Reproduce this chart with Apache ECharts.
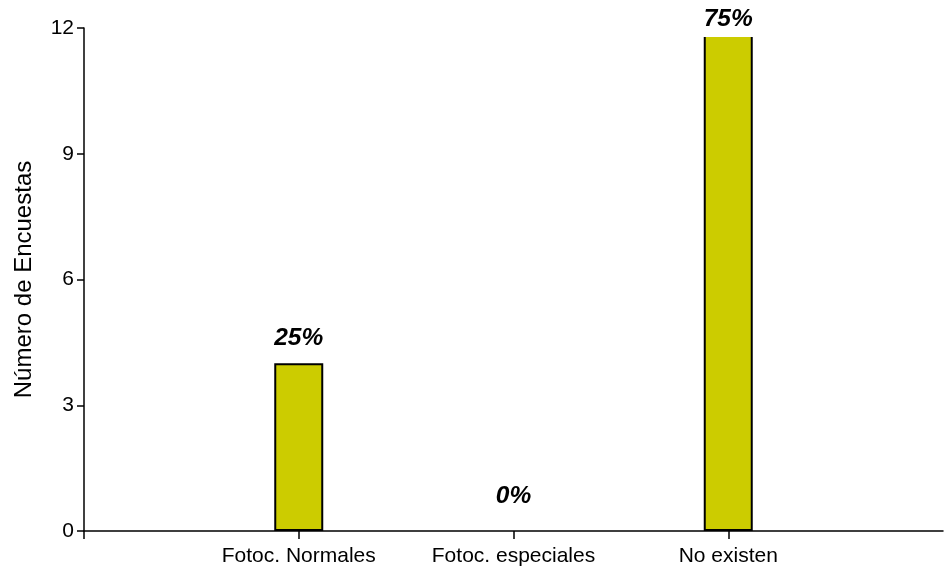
<!DOCTYPE html>
<html>
<head>
<meta charset="utf-8">
<script src="https://cdn.jsdelivr.net/npm/echarts@6/dist/echarts.min.js"></script>
<style>html,body{margin:0;padding:0;background:#fff}#c{width:946px;height:569px}</style>
</head>
<body>
<div id="c"></div>
<script>
var categories = ['Fotoc. Normales', 'Fotoc. especiales', 'No existen'];
var counts = [4, 0, 12];
var percentLabels = ['25%', '0%', '75%'];
var yTicks = [0, 3, 6, 9, 12];

var FONT = '"Liberation Sans", Arial, sans-serif';
var axisCats = [''].concat(categories).concat(['']);
var labelDistances = [13, 22, -9];
var seriesData = [null];
counts.forEach(function (v, i) {
  var item = {
    value: v,
    label: {
      show: true,
      position: 'top',
      distance: labelDistances[i],
      formatter: percentLabels[i],
      fontFamily: FONT,
      fontSize: 24.5,
      fontWeight: 'bold',
      fontStyle: 'italic',
      color: '#000'
    }
  };
  if (v === 0) item.itemStyle = { borderWidth: 0 };
  if (v === yTicks[yTicks.length - 1]) {
    item.label.backgroundColor = '#fff';
    item.label.padding = [2, 1, 5, 1];
  }
  seriesData.push(item);
});
seriesData.push(null);

var chart = echarts.init(document.getElementById('c'), null, { renderer: 'canvas' });
chart.setOption({
  animation: false,
  backgroundColor: '#fff',
  grid: { left: 84, right: 1, top: 28, bottom: 38, containLabel: false },
  xAxis: {
    type: 'category',
    data: axisCats,
    boundaryGap: false,
    axisLine: { lineStyle: { color: '#000', width: 1.5 } },
    axisTick: { show: true, length: 8, lineStyle: { color: '#000', width: 1.5 },
      interval: function (i) { return i < axisCats.length - 1; } },
    axisLabel: { fontFamily: FONT, fontSize: 21, color: '#000', margin: 15, interval: 0 },
    splitLine: { show: false }
  },
  yAxis: {
    type: 'value',
    min: yTicks[0],
    max: yTicks[yTicks.length - 1],
    interval: yTicks[1] - yTicks[0],
    name: 'Número de Encuestas',
    nameLocation: 'middle',
    nameGap: 48,
    nameTextStyle: { fontFamily: FONT, fontSize: 24, color: '#000' },
    axisLine: { show: true, lineStyle: { color: '#000', width: 1.5 } },
    axisTick: { show: true, length: 7, lineStyle: { color: '#000', width: 1.5 } },
    axisLabel: { fontFamily: FONT, fontSize: 21, color: '#000', margin: 10 },
    splitLine: { show: false }
  },
  series: [{
    type: 'bar',
    data: seriesData,
    barWidth: 49,
    itemStyle: { color: '#cccc00', borderColor: '#000', borderWidth: 2 }
  }]
});
</script>
</body>
</html>
